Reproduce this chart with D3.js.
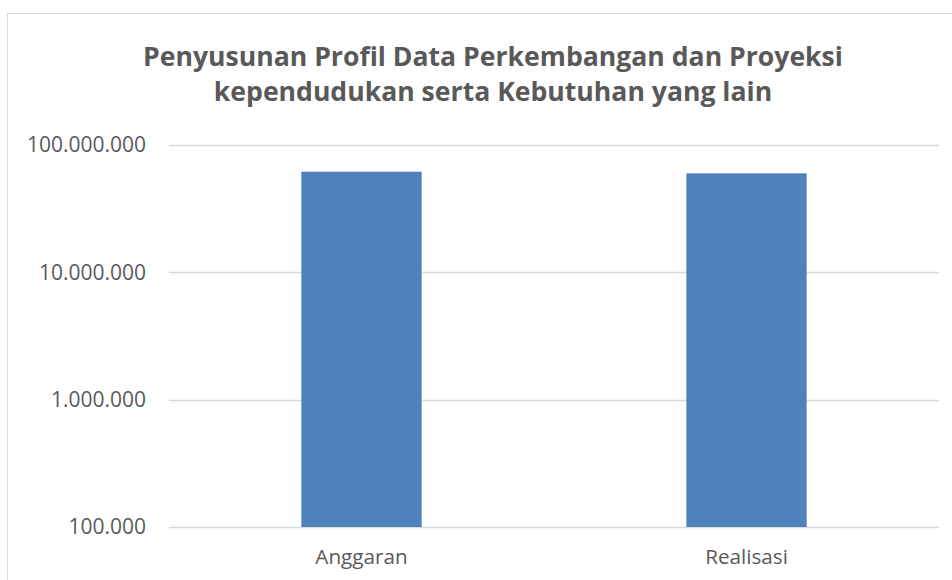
<!DOCTYPE html>
<html>
<head>
<meta charset="utf-8">
<script src="https://cdn.jsdelivr.net/npm/d3@7"></script>
<style>
  html, body { margin: 0; padding: 0; background: #fff; }
  svg { display: block; }
  text { font-family: "Open Sans", "Noto Sans", sans-serif; fill: #595959; }
</style>
</head>
<body>
<svg id="chart" width="952" height="580"></svg>
<script>
const titleLines = ["Penyusunan Profil Data Perkembangan dan Proyeksi", "kependudukan serta Kebutuhan yang lain"];
const categories = ["Anggaran", "Realisasi"];
const values = [61700000, 59900000];
const tickValues = [100000, 1000000, 10000000, 100000000];
const tickLabels = ["100.000", "1.000.000", "10.000.000", "100.000.000"];

const svg = d3.select("#chart");
const plot = { left: 169, right: 939, top: 145, bottom: 527 };

// chart frame
svg.append("rect")
  .attr("x", 7.5).attr("y", 13.5)
  .attr("width", 960).attr("height", 600)
  .attr("fill", "#fff").attr("stroke", "#D9D9D9").attr("stroke-width", 1);

// title
const title = svg.append("text")
  .attr("text-anchor", "middle")
  .attr("font-size", 26.6)
  .attr("font-weight", "bold");
titleLines.forEach((t, i) => {
  title.append("tspan").attr("x", 493).attr("y", 66 + i * 35).text(t);
});

const x = d3.scaleBand().domain(categories).range([plot.left, plot.right]).paddingInner(0.6875).paddingOuter(0.34375);
const y = d3.scaleLog().domain([1e5, 1e8]).range([plot.bottom, plot.top]);

// gridlines
svg.append("g").selectAll("line").data(tickValues).join("line")
  .attr("x1", plot.left).attr("x2", plot.right)
  .attr("y1", d => Math.round(y(d)) + 0.5).attr("y2", d => Math.round(y(d)) + 0.5)
  .attr("stroke", "#D9D9D9").attr("stroke-width", 1.5);

// y axis labels
const yAxis = d3.axisLeft(y).tickValues(tickValues)
  .tickFormat((d, i) => tickLabels[i]).tickSize(0).tickPadding(0);
const gy = svg.append("g").attr("transform", `translate(146,0)`).call(yAxis);
gy.select(".domain").remove();
gy.selectAll("text").attr("font-size", 21).attr("fill", "#595959")
  .style("font-family", '"Open Sans", "Noto Sans", sans-serif');

// bars
svg.append("g").selectAll("rect").data(values).join("rect")
  .attr("x", (d, i) => x(categories[i]))
  .attr("width", x.bandwidth())
  .attr("y", d => y(d))
  .attr("height", d => y(1e5) - y(d))
  .attr("fill", "#4F81BD");

// x axis labels
const xAxis = d3.axisBottom(x).tickSize(0).tickPadding(0);
const gx = svg.append("g").attr("transform", `translate(0,${plot.bottom + 22})`).call(xAxis);
gx.select(".domain").remove();
gx.selectAll("text").attr("font-size", 20.7).attr("fill", "#595959")
  .style("font-family", '"Open Sans", "Noto Sans", sans-serif');
</script>
</body>
</html>
